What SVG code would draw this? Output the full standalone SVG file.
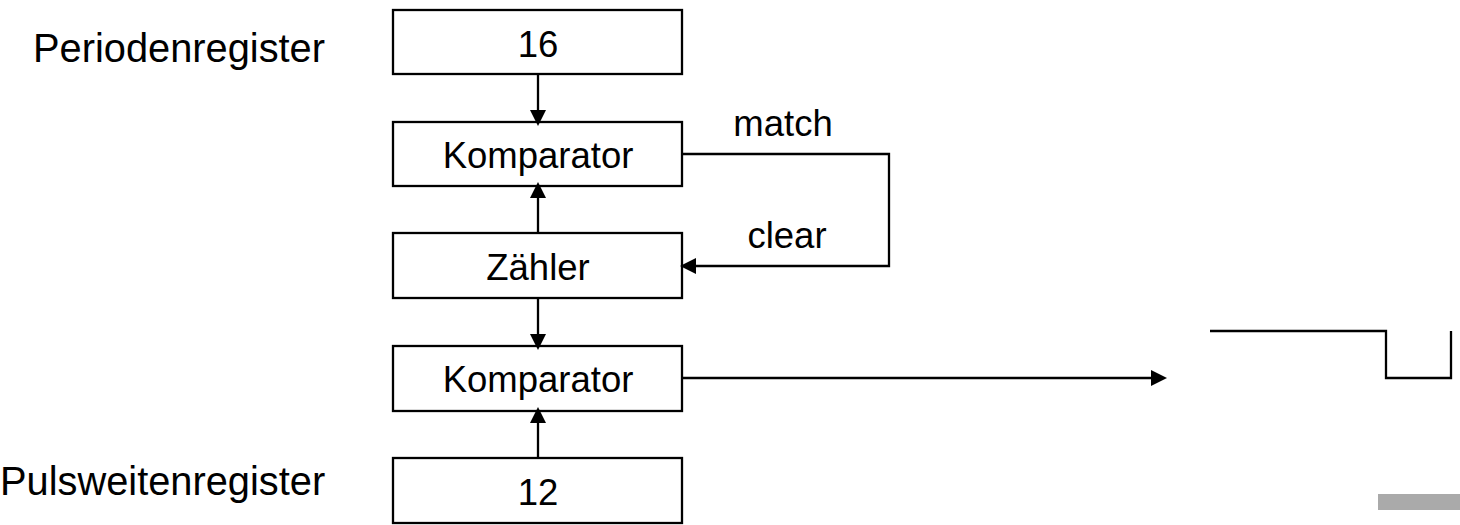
<svg xmlns="http://www.w3.org/2000/svg" width="1460" height="525" viewBox="0 0 1460 525">
  <defs>
    <!-- filled triangular arrowhead; tip reaches 4px beyond the line end -->
    <marker id="arrow" markerUnits="userSpaceOnUse" markerWidth="16" markerHeight="16" refX="12" refY="8" orient="auto">
      <path d="M0,0 L16,8 L0,16 Z" fill="#000"/>
    </marker>
  </defs>
  <style>
    .box { fill: #fff; stroke: #000; stroke-width: 2.3; }
    .line { fill: none; stroke: #000; stroke-width: 2.3; }
    .t { font-family: "Liberation Sans", Arial, sans-serif; font-size: 36.5px; fill: #000; }
    .lbl { font-family: "Liberation Sans", Arial, sans-serif; font-size: 39.8px; fill: #000; }
    .mid { text-anchor: middle; }
  </style>
  <rect width="1460" height="525" fill="#fff"/>

  <!-- side labels -->
  <text class="lbl" x="325" y="62" text-anchor="end">Periodenregister</text>
  <text class="lbl" x="0" y="495">Pulsweitenregister</text>

  <!-- nodes -->
  <g id="periodenregister">
    <rect class="box" x="393" y="10" width="289" height="64"/>
    <text class="t mid" x="538" y="57">16</text>
  </g>
  <g id="komparator1">
    <rect class="box" x="393" y="122" width="289" height="64"/>
    <text class="t mid" x="538" y="168">Komparator</text>
  </g>
  <g id="zaehler">
    <rect class="box" x="393" y="233" width="289" height="65"/>
    <text class="t mid" x="538" y="280">Zähler</text>
  </g>
  <g id="komparator2">
    <rect class="box" x="393" y="346" width="289" height="65"/>
    <text class="t mid" x="538" y="392">Komparator</text>
  </g>
  <g id="pulsweitenregister">
    <rect class="box" x="393" y="458" width="289" height="65"/>
    <text class="t mid" x="538" y="505">12</text>
  </g>

  <!-- connectors (drawn over the boxes so arrow tips overlap the edges) -->
  <g id="connectors">
    <line class="line" x1="538" y1="74" x2="538" y2="122" marker-end="url(#arrow)"/>
    <line class="line" x1="538" y1="233" x2="538" y2="186" marker-end="url(#arrow)"/>
    <line class="line" x1="538" y1="298" x2="538" y2="346" marker-end="url(#arrow)"/>
    <line class="line" x1="538" y1="458" x2="538" y2="411" marker-end="url(#arrow)"/>
    <polyline class="line" points="682,154 889,154 889,266 684,266" marker-end="url(#arrow)"/>
    <line class="line" x1="682" y1="378" x2="1163" y2="378" marker-end="url(#arrow)"/>
    <text class="t mid" x="783" y="136">match</text>
    <text class="t mid" x="787" y="248">clear</text>
  </g>

  <!-- PWM output waveform -->
  <g id="waveform">
    <polyline class="line" points="1210,331 1386,331 1386,378 1451,378 1451,331"/>
  </g>

  <!-- grey bar bottom right -->
  <rect x="1378" y="494" width="82" height="16" fill="#aaaaaa"/>
</svg>
